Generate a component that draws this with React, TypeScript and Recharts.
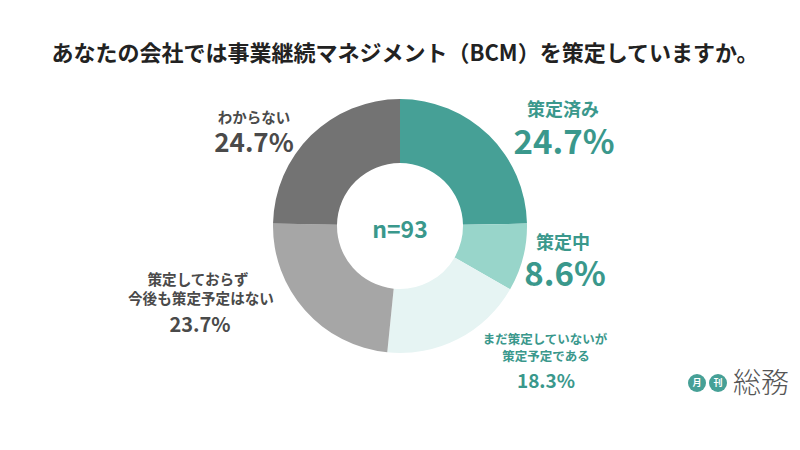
import React from 'react';
import { PieChart, Pie, Cell } from 'recharts';

const categories = ['策定済み', '策定中', 'まだ策定していないが策定予定である', '策定しておらず今後も策定予定はない', 'わからない'];
const shares = [24.7, 8.6, 18.3, 23.7, 24.7];
const sliceColors = ['#46a096', '#98d5ca', '#e6f4f3', '#a6a6a6', '#737373'];
const sampleLabel = 'n=93';
const title = 'あなたの会社では事業継続マネジメント（BCM）を策定していますか。';

const data = categories.map((name, i) => ({ name, value: shares[i] }));

const TEAL = '#3a988c';
const GRAY = '#4a4a4a';
const FONT = '"Noto Sans CJK JP", "Noto Sans", sans-serif';

// centred text block: cx is the horizontal centre, top the box top
const txt = (cx: number, top: number, size: number, color: string): React.CSSProperties => ({
  position: 'absolute',
  left: cx - 100,
  top,
  width: 200,
  textAlign: 'center',
  fontWeight: 700,
  fontSize: size,
  lineHeight: 1,
  color,
  whiteSpace: 'nowrap',
});

const badge = (left: number): React.CSSProperties => ({
  position: 'absolute',
  left,
  top: 374,
  width: 18,
  height: 18,
  borderRadius: 9,
  background: '#46a096',
  color: '#fff',
  fontSize: 9,
  fontWeight: 700,
  lineHeight: '18px',
  textAlign: 'center',
});

export default function App() {
  return (
    <div style={{ position: 'relative', width: 800, height: 450, background: '#fff', fontFamily: FONT, overflow: 'hidden' }}>
      <style>{`body{margin:0}`}</style>

      <div style={{ position: 'absolute', left: 5, top: 40, width: 800, textAlign: 'center', fontSize: 22, fontWeight: 700, lineHeight: 1, color: '#222' }}>
        {title}
      </div>

      <PieChart width={800} height={450} style={{ position: 'absolute', left: 0, top: 0 }}>
        <Pie
          data={data}
          dataKey="value"
          cx={395}
          cy={221}
          innerRadius={63}
          outerRadius={127}
          startAngle={90}
          endAngle={-270}
          stroke="none"
          isAnimationActive={false}
        >
          {data.map((d, i) => (
            <Cell key={d.name} fill={sliceColors[i]} />
          ))}
        </Pie>
      </PieChart>

      {/* center count */}
      <div style={txt(400, 217, 23, TEAL)}>{sampleLabel}</div>

      {/* 策定済み */}
      <div style={txt(563, 99, 18, TEAL)}>{categories[0]}</div>
      <div style={txt(564, 124, 33, TEAL)}>{shares[0]}%</div>

      {/* 策定中 */}
      <div style={txt(563, 232, 18, TEAL)}>策定中</div>
      <div style={txt(565, 256, 33, TEAL)}>{shares[1]}%</div>

      {/* まだ策定していないが策定予定である */}
      <div style={txt(545, 333, 12.5, TEAL)}>まだ策定していないが</div>
      <div style={txt(546, 350, 12.5, TEAL)}>策定予定である</div>
      <div style={txt(546, 370, 19, TEAL)}>{shares[2]}%</div>

      {/* 策定しておらず今後も策定予定はない */}
      <div style={txt(198, 272, 14.6, GRAY)}>策定しておらず</div>
      <div style={txt(201, 291, 14.6, GRAY)}>今後も策定予定はない</div>
      <div style={txt(200, 314, 20, GRAY)}>{shares[3]}%</div>

      {/* わからない */}
      <div style={txt(254, 110, 14.5, GRAY)}>{categories[4]}</div>
      <div style={txt(254, 128, 26, GRAY)}>{shares[4]}%</div>

      {/* logo */}
      <div style={badge(688)}>月</div>
      <div style={badge(709)}>刊</div>
      <div style={{ position: 'absolute', left: 733, top: 367, fontSize: 28, fontWeight: 300, color: '#555', lineHeight: 1, letterSpacing: 0 }}>総務</div>
    </div>
  );
}
